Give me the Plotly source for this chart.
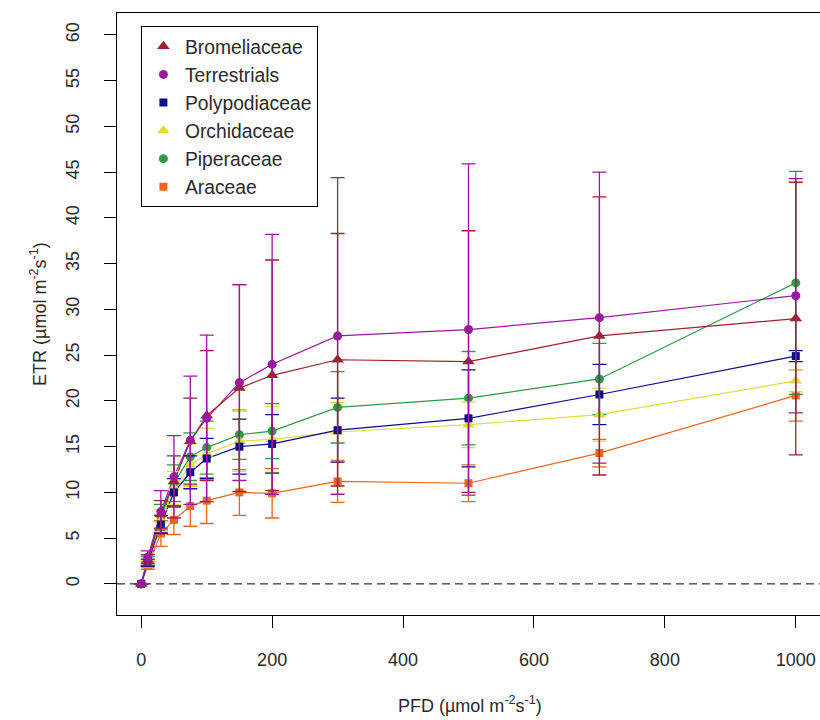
import plotly.graph_objects as go

# Photon flux density levels of the light curve
pfd = [0, 10, 30, 50, 75, 100, 150, 200, 300, 500, 700, 1000]

# Mean electron transport rate per group and its error
bromeliaceae = [0, 2.6, 7.6, 11.2, 15.6, 18.4, 21.4, 22.8, 24.5, 24.3, 27.1, 29.0]
bromeliaceae_err = [0, 0.6, 1.5, 2.8, 4.7, 7.1, 11.3, 12.6, 13.8, 14.3, 15.2, 14.9]

terrestrials = [0, 2.9, 7.9, 11.7, 15.7, 18.1, 22.0, 24.0, 27.1, 27.8, 29.1, 31.5]
terrestrials_err = [0, 0.7, 2.3, 4.5, 7.0, 9.1, 10.7, 14.2, 17.3, 18.1, 15.9, 12.8]

polypodiaceae = [0, 2.3, 6.5, 10.0, 12.2, 13.7, 15.0, 15.3, 16.8, 18.1, 20.7, 24.9]
polypodiaceae_err = [0, 0.4, 1.0, 1.5, 1.8, 2.2, 3.0, 3.2, 3.5, 5.3, 3.3, 0.6]

orchidaceae = [0, 2.2, 6.9, 10.5, 13.0, 14.2, 15.6, 15.8, 16.6, 17.4, 18.5, 22.2]
orchidaceae_err = [0, 0.4, 1.2, 1.8, 2.3, 2.8, 3.3, 3.6, 3.2, 2.5, 2.9, 1.2]

piperaceae = [0, 2.5, 7.3, 11.0, 13.9, 14.9, 16.3, 16.7, 19.3, 20.3, 22.4, 32.9]
piperaceae_err = [0, 0.5, 1.4, 2.0, 2.6, 2.9, 2.7, 3.0, 3.9, 5.1, 3.9, 12.2]

araceae = [0, 2.0, 5.5, 7.0, 8.5, 9.1, 10.0, 9.9, 11.2, 11.0, 14.3, 20.6]
araceae_err = [0, 0.4, 1.4, 1.6, 2.2, 2.5, 2.5, 2.7, 2.3, 2.0, 1.5, 2.8]

x_ticks = [0, 200, 400, 600, 800, 1000]
y_ticks = [0, 5, 10, 15, 20, 25, 30, 35, 40, 45, 50, 55, 60]

groups = [
    ("Bromeliaceae", bromeliaceae, bromeliaceae_err, "#A0202C", "triangle-up", 11),
    ("Terrestrials", terrestrials, terrestrials_err, "#991A9E", "circle", 9),
    ("Polypodiaceae", polypodiaceae, polypodiaceae_err, "#0C0C8C", "square", 8),
    ("Orchidaceae", orchidaceae, orchidaceae_err, "#E0DC3C", "triangle-up", 11),
    ("Piperaceae", piperaceae, piperaceae_err, "#2E9A46", "circle", 9),
    ("Araceae", araceae, araceae_err, "#F0651E", "square", 8),
]

# drawing order: Terrestrials last so its long bars sit on top
draw_order = [5, 4, 3, 2, 0, 1]

FONT = "Liberation Sans, Arial, sans-serif"
TXT = "#2a2a2a"
fig = go.Figure()

for i in draw_order:
    name, vals, err, color, symbol, size = groups[i]
    fig.add_trace(go.Scatter(
        x=pfd, y=vals, mode="lines", showlegend=False,
        line=dict(color=color, width=1.2), hoverinfo="skip",
    ))

for i in draw_order:
    name, vals, err, color, symbol, size = groups[i]
    fig.add_trace(go.Scatter(
        x=pfd, y=vals, mode="markers", name=name, legendrank=i + 1,
        marker=dict(color=color, symbol=symbol, size=size, line=dict(width=0)),
        error_y=dict(type="data", array=err, visible=True,
                     color=color, thickness=1.3, width=7),
    ))

fig.update_layout(
    width=820, height=720,
    margin=dict(l=117, r=0, t=13, b=105),
    paper_bgcolor="white", plot_bgcolor="white",
    font=dict(family=FONT, size=18, color=TXT),
    showlegend=True,
    legend=dict(
        x=0.034, y=0.978, xanchor="left", yanchor="top",
        bordercolor="black", borderwidth=1, bgcolor="white",
        font=dict(family=FONT, size=19.3, color=TXT),
        itemwidth=33, tracegroupgap=0,
    ),
    xaxis=dict(
        range=[-37, 1037], tickvals=x_ticks, ticks="outside", ticklen=12,
        tickwidth=1, tickcolor="black", showline=True, linecolor="black",
        linewidth=1, mirror=True, showgrid=False, zeroline=False,
        ticklabelstandoff=16,
        tickfont=dict(family=FONT, size=18, color=TXT),
    ),
    yaxis=dict(
        range=[-3.4, 62.4], tickvals=y_ticks, ticks="outside", ticklen=12,
        tickwidth=1, tickcolor="black", showline=True, linecolor="black",
        linewidth=1, mirror=False, showgrid=False, zeroline=False,
        tickangle=-90, ticklabelstandoff=18,
        tickfont=dict(family=FONT, size=18, color=TXT),
    ),
    shapes=[
        dict(type="line", xref="paper", yref="y", x0=0, x1=1, y0=0, y1=0,
             line=dict(color="black", width=1, dash="8px,5px"), layer="below"),
    ],
    annotations=[
        dict(text="PFD (µmol m<sup>-2</sup>s<sup>-1</sup>)", xref="paper", yref="paper",
             x=0.502, y=-0.1495, xanchor="center", yanchor="middle", showarrow=False,
             font=dict(family=FONT, size=18, color=TXT)),
        dict(text="ETR (µmol m<sup>-2</sup>s<sup>-1</sup>)", xref="paper", yref="paper",
             x=-0.1124, y=0.5, xanchor="center", yanchor="middle", showarrow=False,
             textangle=-90, font=dict(family=FONT, size=18, color=TXT)),
    ],
)

fig.write_html("out.html")
